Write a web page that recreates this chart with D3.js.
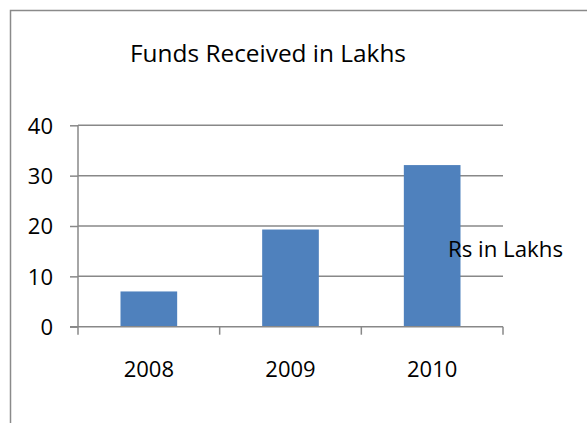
<!DOCTYPE html>
<html>
<head>
<meta charset="utf-8">
<script src="https://cdn.jsdelivr.net/npm/d3@7"></script>
<style>
  body { margin: 0; background: #fff; }
  text { font-family: "Open Sans", sans-serif; fill: #000; }
</style>
</head>
<body>
<div id="chart"></div>
<script>
var years = ["2008", "2009", "2010"];
var funds = [7, 19.3, 32.1];
var yTicks = [0, 10, 20, 30, 40];
var chartTitle = "Funds Received in Lakhs";
var seriesName = "Rs in Lakhs";

var width = 587, height = 423;
var plotLeft = 78, plotRight = 503, plotTop = 125.3, plotBottom = 326.7;

var svg = d3.select("#chart")
  .append("svg")
  .attr("width", width)
  .attr("height", height);

// outer frame (only top and left edges visible)
svg.append("path")
  .attr("d", "M10.5," + height + "V10.5H" + width)
  .attr("fill", "none")
  .attr("stroke", "#8a8a8a")
  .attr("stroke-width", 1.5);

var x = d3.scaleBand()
  .domain(years)
  .range([plotLeft, plotRight])
  .paddingInner(0.6)
  .paddingOuter(0.3);

var y = d3.scaleLinear()
  .domain([0, 40])
  .range([plotBottom, plotTop]);

// gridlines
svg.append("g")
  .selectAll("line")
  .data(yTicks.slice(1))
  .enter()
  .append("line")
  .attr("x1", plotLeft)
  .attr("x2", plotRight)
  .attr("y1", (d) => y(d))
  .attr("y2", (d) => y(d))
  .attr("stroke", "#888")
  .attr("stroke-width", 1.5);

// bars
svg.append("g")
  .selectAll("rect")
  .data(funds)
  .enter()
  .append("rect")
  .attr("x", (d, i) => x(years[i]))
  .attr("y", (d) => y(d))
  .attr("width", x.bandwidth())
  .attr("height", (d) => y(0) - y(d))
  .attr("fill", "#4f81bd");

// y axis
var yAxis = svg.append("g")
  .attr("transform", "translate(" + plotLeft + ",0)")
  .call(d3.axisLeft(y).tickValues(yTicks).tickSize(8).tickPadding(17).tickSizeOuter(0));
yAxis.select(".domain").remove();
yAxis.selectAll("line").attr("stroke", "#888").attr("stroke-width", 1.5);
yAxis.selectAll("text")
  .style("font-family", "'Open Sans', sans-serif")
  .style("font-size", "22px")
  .attr("fill", "#000")
  .attr("dy", "0.36em");
yAxis.append("line")
  .attr("x1", 0).attr("x2", 0)
  .attr("y1", plotTop).attr("y2", plotBottom + 8)
  .attr("stroke", "#888")
  .attr("stroke-width", 1.5);

// x axis
var xAxis = svg.append("g");
xAxis.append("line")
  .attr("x1", plotLeft - 8).attr("x2", plotRight)
  .attr("y1", plotBottom).attr("y2", plotBottom)
  .attr("stroke", "#888")
  .attr("stroke-width", 1.5);
xAxis.selectAll(".tick")
  .data(d3.range(1, years.length + 1))
  .enter()
  .append("line")
  .attr("x1", (d) => plotLeft + d * x.step())
  .attr("x2", (d) => plotLeft + d * x.step())
  .attr("y1", plotBottom)
  .attr("y2", plotBottom + 8)
  .attr("stroke", "#888")
  .attr("stroke-width", 1.5);
xAxis.selectAll("text")
  .data(years)
  .enter()
  .append("text")
  .attr("x", (d) => x(d) + x.bandwidth() / 2)
  .attr("y", 377)
  .attr("text-anchor", "middle")
  .style("font-size", "22px")
  .text((d) => d);

// title
svg.append("text")
  .attr("x", 268)
  .attr("y", 62)
  .attr("text-anchor", "middle")
  .style("font-size", "23px")
  .attr("textLength", 276)
  .attr("lengthAdjust", "spacingAndGlyphs")
  .text(chartTitle);

// legend label
svg.append("text")
  .attr("x", 448)
  .attr("y", 256.5)
  .style("font-size", "22px")
  .attr("textLength", 115)
  .attr("lengthAdjust", "spacingAndGlyphs")
  .text(seriesName);
</script>
</body>
</html>
